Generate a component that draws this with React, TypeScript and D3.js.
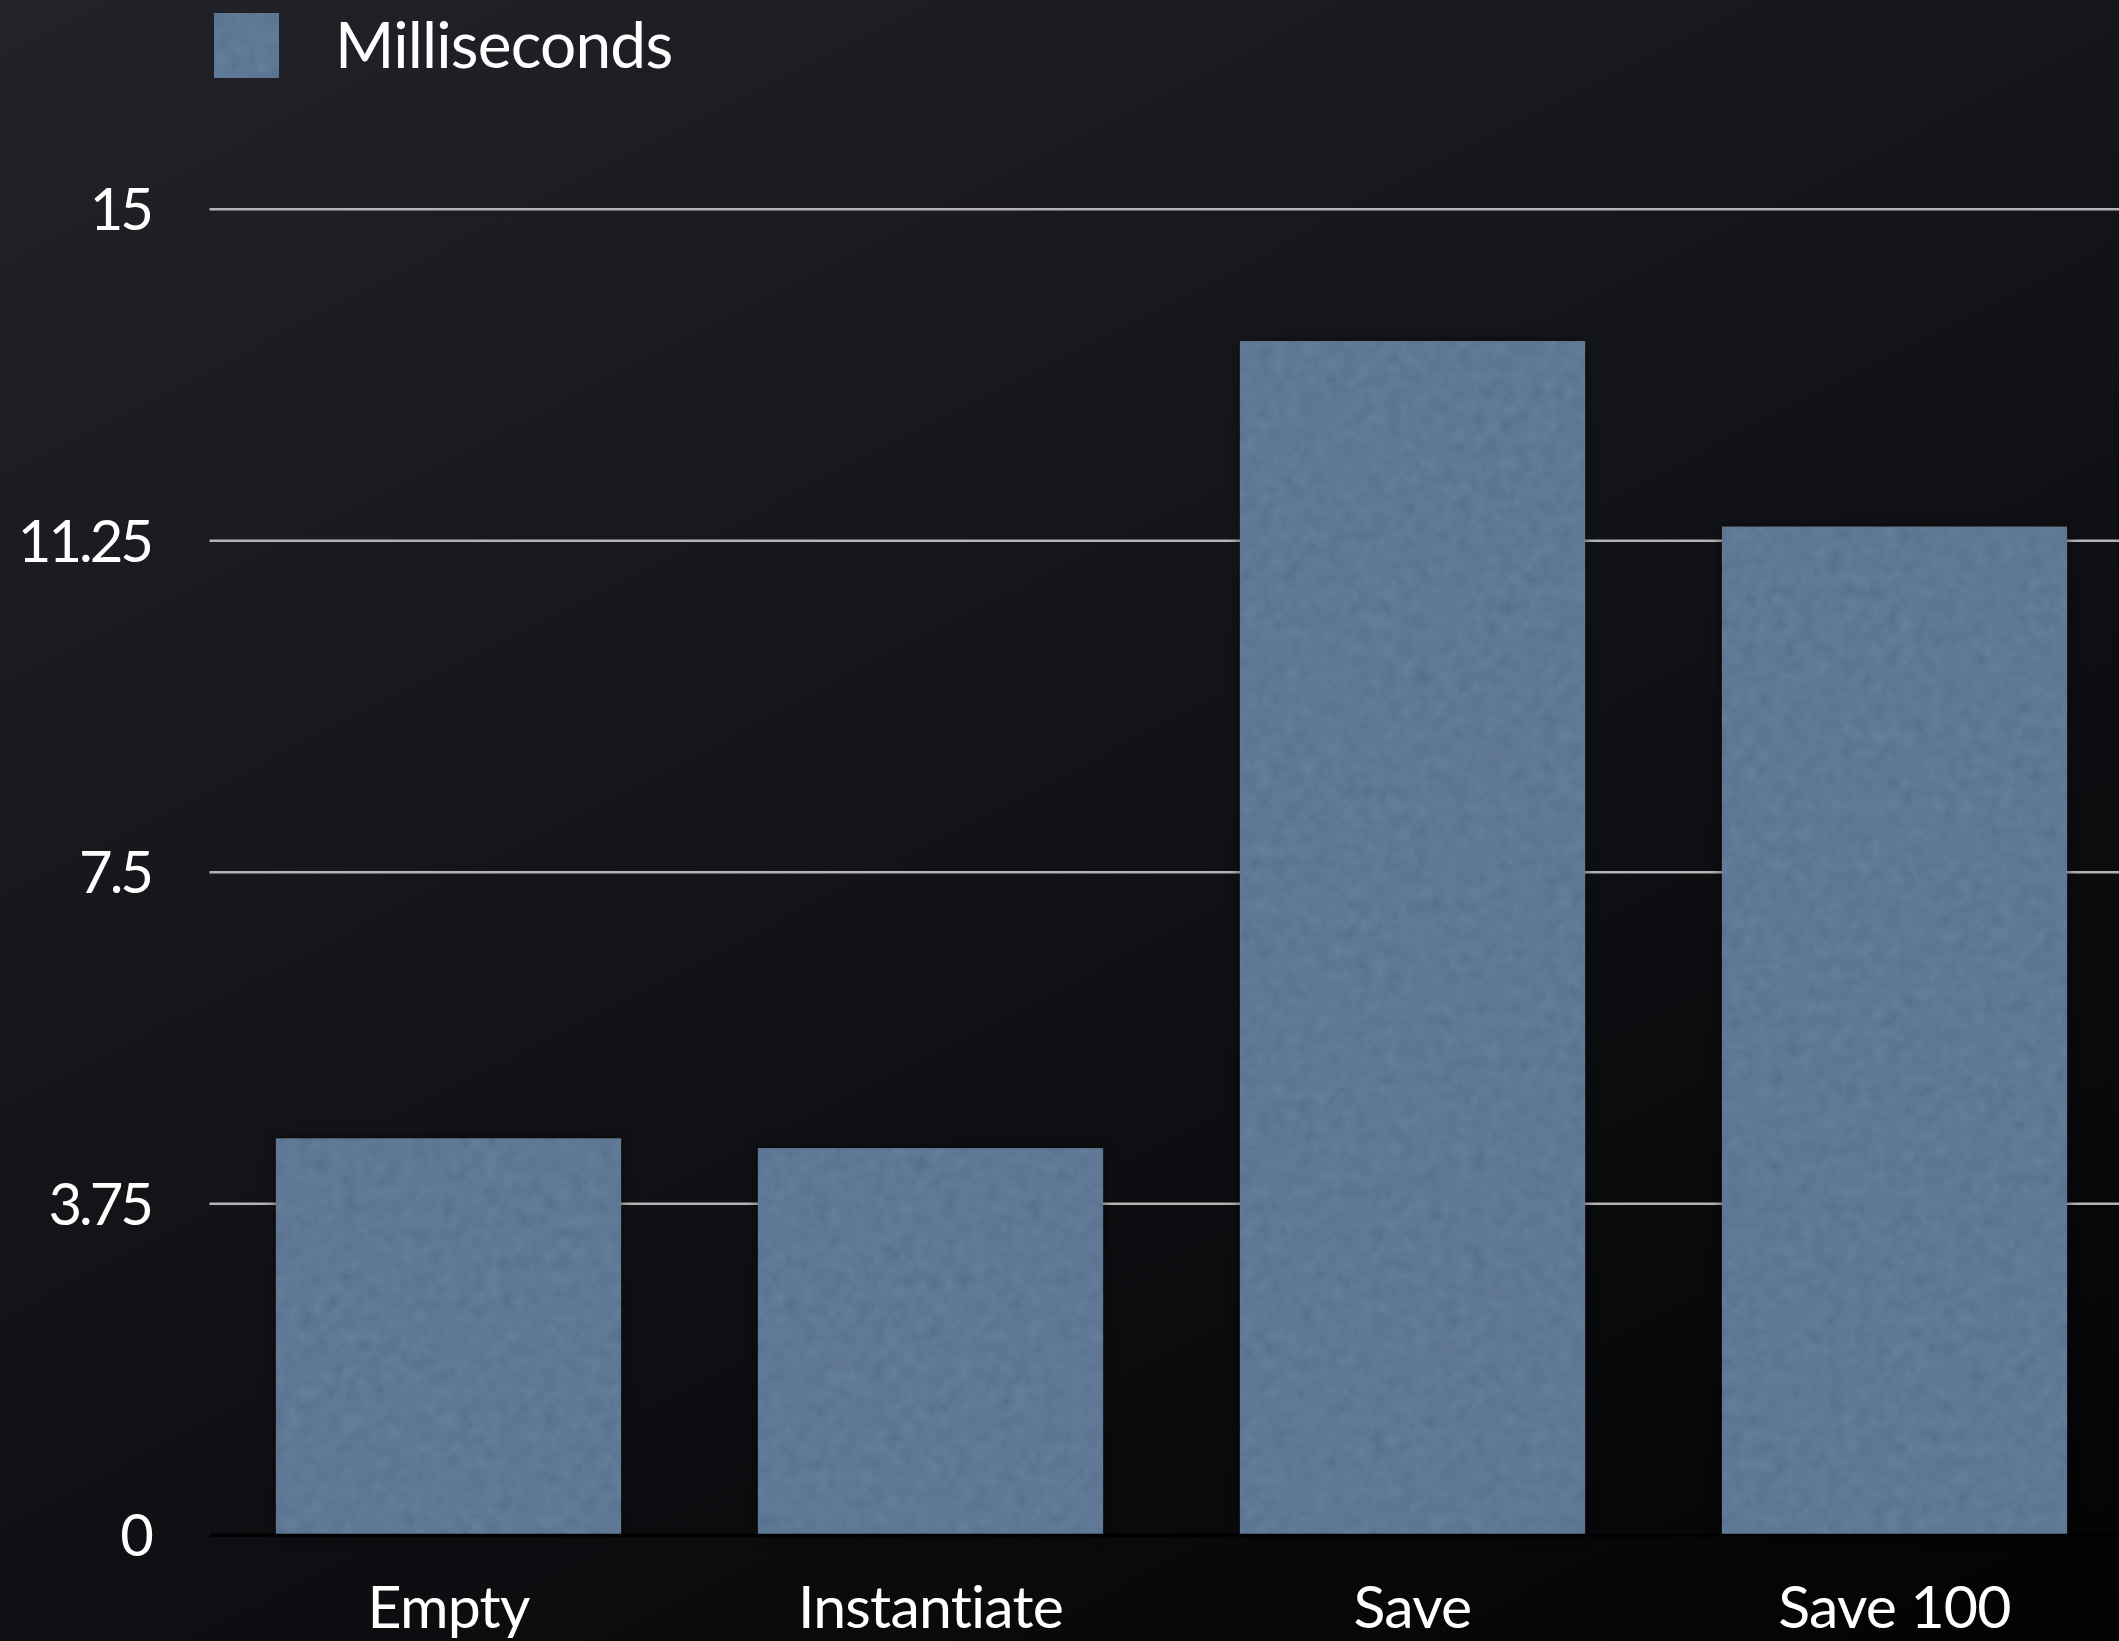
import React from "react";
import * as d3 from "d3";

// Benchmark timings (ms) per operation
const categories = ["Empty", "Instantiate", "Save", "Save 100"];
const milliseconds = [4.49, 4.38, 13.51, 11.41];
const yTicks = [0, 3.75, 7.5, 11.25, 15];
const seriesName = "Milliseconds";

const W = 2119;
const H = 1641;
const FONT = "Lato, 'Open Sans', sans-serif";
const BAR = "#5f7895";
const noLigatures = { fontVariantLigatures: "none", fontFeatureSettings: "'liga' 0" } as React.CSSProperties;

export default function App() {
  const y = d3.scaleLinear().domain([0, 15]).range([1535.3, 209.3]);
  const x = d3
    .scaleBand<string>()
    .domain(categories)
    .range([207.5, 2135.5])
    .paddingInner(0.284)
    .paddingOuter(0.142);
  const gridLeft = 209.5;
  const fmt = (v: number) => String(v);

  return (
    <svg
      width={W}
      height={H}
      viewBox={`0 0 ${W} ${H}`}
      style={{ position: "absolute", left: 0, top: 0, display: "block" }}
    >
      <defs>
        <linearGradient id="bg" gradientUnits="userSpaceOnUse" x1={0} y1={0} x2={1123} y2={2206}>
          <stop offset="0" stopColor="#212329" />
          <stop offset="1" stopColor="#020203" />
        </linearGradient>
        <filter id="barTexture" x="0" y="0" width="100%" height="100%" colorInterpolationFilters="sRGB">
          <feTurbulence type="fractalNoise" baseFrequency="0.07" numOctaves="4" seed="7" result="noise" />
          <feColorMatrix
            in="noise"
            type="matrix"
            values="0.09 0.09 0.09 0 0.365  0.09 0.09 0.09 0 0.365  0.09 0.09 0.09 0 0.365  0 0 0 0 1"
            result="gray"
          />
          <feBlend in="gray" in2="SourceGraphic" mode="soft-light" result="blend" />
          <feComposite in="blend" in2="SourceGraphic" operator="in" />
        </filter>
        <filter id="barShadow" x="-10%" y="-10%" width="120%" height="120%">
          <feDropShadow dx="0" dy="0" stdDeviation="6" floodColor="#000" floodOpacity="0.55" />
        </filter>
      </defs>

      <rect x={0} y={0} width={W} height={H} fill="url(#bg)" />

      {/* horizontal gridlines */}
      <g>
        {yTicks
          .filter((t) => t !== 0)
          .map((t) => (
            <line
              key={t}
              x1={gridLeft}
              x2={W}
              y1={y(t)}
              y2={y(t)}
              stroke="#b4b4b4"
              strokeWidth={2.5}
            />
          ))}
      </g>

      {/* bars */}
      <g filter="url(#barShadow)">
        {categories.map((c, i) => (
          <rect
            key={c}
            x={x(c)}
            y={y(milliseconds[i])}
            width={x.bandwidth()}
            height={y(0) - y(milliseconds[i])}
            fill={BAR}
            filter="url(#barTexture)"
          />
        ))}
      </g>

      {/* baseline */}
      <line x1={gridLeft} x2={W} y1={y(0)} y2={y(0)} stroke="#000" strokeWidth={3} />

      {/* y tick labels */}
      <g fontFamily={FONT} fontSize={58} fill="#fff" textAnchor="end" letterSpacing={-3}>
        {yTicks.map((t) => (
          <text key={t} x={151} y={y(t)} dy="0.36em">
            {fmt(t)}
          </text>
        ))}
      </g>

      {/* category labels */}
      <g fontFamily={FONT} fontSize={59} fill="#fff" textAnchor="middle" letterSpacing={-0.8} style={noLigatures}>
        {categories.map((c) => (
          <text key={c} x={(x(c) as number) + x.bandwidth() / 2} y={1628}>
            {c}
          </text>
        ))}
      </g>

      {/* legend */}
      <g>
        <rect x={214} y={13} width={65} height={65} fill={BAR} filter="url(#barTexture)" />
        <text x={335} y={68} fontFamily={FONT} fontSize={64} letterSpacing={-0.8} fill="#fff">
          {seriesName}
        </text>
      </g>
    </svg>
  );
}
